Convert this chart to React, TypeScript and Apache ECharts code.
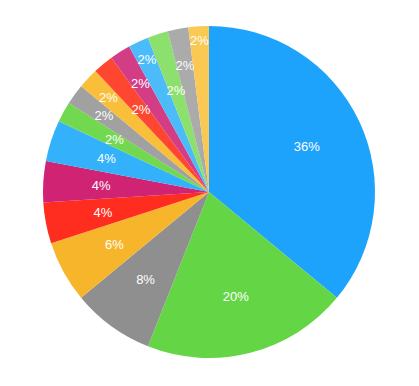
import React, { useEffect, useRef } from "react";
import * as echarts from "echarts";

const categories = [
  "A", "B", "C", "D", "E", "F", "G", "H",
  "I", "J", "K", "L", "M", "N", "O", "P",
];
const values = [36, 20, 8, 6, 4, 4, 4, 2, 2, 2, 2, 2, 2, 2, 2, 2];
const colors = [
  "#1EA3FD", "#64D646", "#8F8F8F", "#F7B52C", "#FF2D20", "#D02374",
  "#33B1FA", "#72D84F", "#A1A1A1", "#F9BE3A", "#FF4631", "#D23D86",
  "#4CBBF9", "#8CE06E", "#ABABAB", "#F9C953",
];
// radial distance of each slice's label from the centre (px)
const labelRadius = [105, 105, 105, 105, 105, 105, 105, 105, 127, 135, 104, 125, 143, 104, 126, 149];

export default function App() {
  const ref = useRef<HTMLDivElement>(null);
  useEffect(() => {
    if (!ref.current) return;
    const chart = echarts.init(ref.current, null, { renderer: "svg" });
    const center = [209, 192];
    const levels = Array.from(new Set(labelRadius));
    const labelSeries = levels.map((lr) => ({
      type: "pie",
      silent: true,
      center,
      radius: [lr - 10, lr + 10],
      startAngle: 90,
      clockwise: true,
      avoidLabelOverlap: false,
      emphasis: { disabled: true },
      itemStyle: { color: "rgba(0,0,0,0)", borderWidth: 0 },
      labelLine: { show: false },
      data: categories.map((c, i) => ({
        name: c,
        value: values[i],
        label: {
          show: labelRadius[i] === lr,
          position: "inside",
          color: "#ffffff",
          fontSize: 13,
          fontFamily: "Liberation Sans, Arial, sans-serif",
          formatter: (p: any) => p.value + "%",
        },
      })),
      z: 3,
    }));
    chart.setOption({
      animation: false,
      backgroundColor: "#ffffff",
      series: [
        {
          type: "pie",
          center,
          radius: [0, 166],
          startAngle: 90,
          clockwise: true,
          label: { show: false },
          labelLine: { show: false },
          emphasis: { disabled: true },
          itemStyle: { borderWidth: 0 },
          data: categories.map((c, i) => ({
            name: c,
            value: values[i],
            itemStyle: { color: colors[i] },
          })),
          z: 2,
        },
        ...labelSeries,
      ],
    });
    return () => chart.dispose();
  }, []);
  return (
    <div
      ref={ref}
      style={{ position: "fixed", left: 0, top: 0, width: 419, height: 386 }}
    />
  );
}
